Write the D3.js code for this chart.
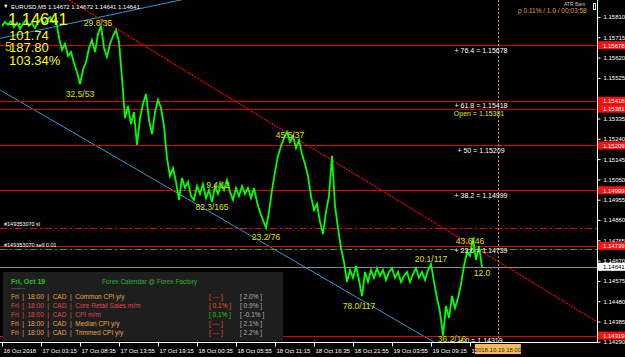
<!DOCTYPE html>
<html>
<head>
<meta charset="utf-8">
<script src="https://cdn.jsdelivr.net/npm/d3@7"></script>
<style>
body { margin: 0; background: #000; }
svg { display: block; font-family: "Liberation Sans", Arial, sans-serif; }
</style>
</head>
<body>
<svg id="chart" width="625" height="357"></svg>
<script>
/*=====================================================================
 data
======================================================================*/

// EURUSD M5 closes, one sample every ~5 bars
var closes = [
    1.15768, 1.15787, 1.15773, 1.15791, 1.15763, 1.15782, 1.15754, 1.15777, 1.15796, 1.15768,
    1.15782, 1.15759, 1.15787, 1.15801, 1.15777, 1.15796, 1.15810, 1.15787, 1.15801, 1.15712,
    1.15656, 1.15684, 1.15628, 1.15646, 1.15595, 1.15553, 1.15496, 1.15562, 1.15599, 1.15665,
    1.15702, 1.15646, 1.15730, 1.15768, 1.15665, 1.15623, 1.15684, 1.15721, 1.15749, 1.15693,
    1.15525, 1.15337, 1.15394, 1.15309, 1.15365, 1.15211, 1.15337, 1.15403, 1.15450, 1.15328,
    1.15262, 1.15365, 1.15422, 1.15384, 1.15300, 1.15150, 1.15066, 1.15103, 1.15038, 1.14954,
    1.15057, 1.15010, 1.15038, 1.14972, 1.14954, 1.15019, 1.14982, 1.15028, 1.14963, 1.15000,
    1.14944, 1.15019, 1.14982, 1.15028, 1.15000, 1.15047, 1.14991, 1.14954, 1.15010, 1.14972,
    1.15019, 1.14982, 1.15010, 1.14963, 1.15010, 1.14944, 1.14897, 1.14860, 1.14823, 1.14897,
    1.15000, 1.15085, 1.15160, 1.15206, 1.15244, 1.15272, 1.15225, 1.15253, 1.15197, 1.15234,
    1.15169, 1.15122, 1.15066, 1.14972, 1.14907, 1.14935, 1.14851, 1.14794, 1.14897, 1.14972,
    1.15160, 1.14926, 1.14823, 1.14729, 1.14663, 1.14570, 1.14626, 1.14589, 1.14645, 1.14579,
    1.14504, 1.14617, 1.14570, 1.14626, 1.14589, 1.14635, 1.14598, 1.14626, 1.14579, 1.14617,
    1.14635, 1.14589, 1.14617, 1.14570, 1.14598, 1.14617, 1.14570, 1.14607, 1.14635, 1.14589,
    1.14617, 1.14579, 1.14626, 1.14654, 1.14570, 1.14495, 1.14429, 1.14319, 1.14458, 1.14401,
    1.14504, 1.14448, 1.14495, 1.14560, 1.14645, 1.14710, 1.14692, 1.14776, 1.14673, 1.14738,
    1.14641
];

var priceTicks = [1.15810, 1.15715, 1.15620, 1.15525, 1.15430, 1.15335, 1.15240, 1.15145, 1.15050,
    1.14955, 1.14860, 1.14765, 1.14670, 1.14575, 1.14480, 1.14385, 1.14290];

var timeLabels = ["16 Oct 2018", "17 Oct 03:15", "17 Oct 08:35", "17 Oct 13:55", "17 Oct 19:15",
    "18 Oct 00:35", "18 Oct 05:55", "18 Oct 11:15", "18 Oct 16:35", "18 Oct 21:55",
    "19 Oct 03:55", "19 Oct 09:15", "19 Oct 14:35"];
var timeTicks = [0, 13, 26, 39, 52, 65, 78, 91, 104, 117, 130, 143, 156]; // sample index

// fibonacci levels
var fibNames = ["76.4", "61.8", "50", "38.2", "23.6", "0"];
var fibPrices = [1.15678, 1.15418, 1.15209, 1.14999, 1.14739, 1.14319];
var openPrice = 1.15381;
var lastPrice = 1.14641;

// order lines
var orderTicket = "#149353070";
var slPrice = 1.14823;
var entryPrice = 1.14724;

// trend lines: [sample, price] pairs
var blueUpper = [[0, 1.15712], [61, 1.15894]];
var blueLower = [[0, 1.15463], [140, 1.14321]];
var redTrend = [[0, 1.16081], [160, 1.14712]];

// swing labels
var swingText = ["29.8/35", "32.5/53", "45.5/37", "9.4/12", "82.3/165", "23.2/76", "78.0/117", "20.1/117", "43.6/46", "12.0", "36.2/16"];
var swingIdx = [32, 26, 96, 72, 70, 88, 119, 143, 156, 160, 150];
var swingPrice = [1.15768, 1.15436, 1.15244, 1.15010, 1.14907, 1.14767, 1.14444, 1.14664, 1.14748, 1.14599, 1.14290];

// event marker
var eventSample = 165.3;
var eventLabel = "2018.10.19 18:00";

// forex calendar
var calDay = "Fri, Oct 19";
var calWeekday = ["Fri", "Fri", "Fri", "Fri", "Fri"];
var calTime = ["18:00", "18:00", "18:00", "18:00", "18:00"];
var calCurrency = ["CAD", "CAD", "CAD", "CAD", "CAD"];
var calEvent = ["Common CPI y/y", "Core Retail Sales m/m", "CPI m/m", "Median CPI y/y", "Trimmed CPI y/y"];
var calImpact = ["medium", "high", "high", "medium", "medium"];
var calForecast = ["---", "0.1%", "0.1%", "---", "---"];
var calPrevious = ["2.0%", "0.9%", "-0.1%", "2.1%", "2.2%"];

/*=====================================================================
 setup
======================================================================*/
var W = 625, H = 357;
var plotRight = 597, plotBottom = 342;

var svg = d3.select("#chart");
svg.append("rect").attr("width", W).attr("height", H).attr("fill", "#000");

var defs = svg.append("defs");
defs.append("clipPath").attr("id", "plotClip")
    .append("rect").attr("width", plotRight).attr("height", plotBottom);

var x = d3.scaleLinear().domain([0, 160]).range([2, 482]);
var y = d3.scaleLinear().domain([1.14290, 1.15810]).range([341.8, 17]);

var plot = svg.append("g").attr("clip-path", "url(#plotClip)");

// straight line through two [sample, price] points, spanning the plot
function trendLine(pts, color, dash, width) {
    var s0 = x.invert(0), s1 = x.invert(plotRight);
    var k = (pts[1][1] - pts[0][1]) / (pts[1][0] - pts[0][0]);
    var p = function (s) { return pts[0][1] + (s - pts[0][0]) * k; };
    plot.append("line")
        .attr("x1", x(s0)).attr("y1", y(p(s0)))
        .attr("x2", x(s1)).attr("y2", y(p(s1)))
        .attr("stroke", color).attr("stroke-width", width || 1)
        .attr("stroke-dasharray", dash || null);
}

function hLine(price, color, dash) {
    plot.append("line")
        .attr("x1", 0).attr("x2", plotRight)
        .attr("y1", Math.round(y(price)) + 0.5).attr("y2", Math.round(y(price)) + 0.5)
        .attr("stroke", color).attr("stroke-width", 1)
        .attr("stroke-dasharray", dash || null);
}

/*=====================================================================
 lines
======================================================================*/
trendLine(blueUpper, "#2f9ad6");
trendLine(blueLower, "#2f9ad6");
trendLine(redTrend, "#f00000", "2,1", 1.2);

fibPrices.forEach(function (p) { hLine(p, "#e00000"); });
hLine(openPrice, "#c80000");
hLine(lastPrice, "#8c8c8c");
hLine(slPrice, "#ff0000", "7,3,2,3");
hLine(entryPrice, "#00c000", "7,3,2,3");

// event time marker
plot.append("line")
    .attr("x1", Math.round(x(eventSample)) + 0.5).attr("x2", Math.round(x(eventSample)) + 0.5)
    .attr("y1", 0).attr("y2", plotBottom)
    .attr("stroke", "#d89040").attr("stroke-dasharray", "2,2");

// price line
var line = d3.line()
    .x(function (d, i) { return x(i); })
    .y(function (d) { return y(d); });

plot.append("path")
    .datum(closes)
    .attr("d", line)
    .attr("fill", "none")
    .attr("stroke", "#00ff00")
    .attr("stroke-width", 1.8)
    .attr("stroke-linejoin", "miter");

/*=====================================================================
 labels on the plot
======================================================================*/
fibPrices.forEach(function (p, i) {
    svg.append("text")
        .attr("x", 481).attr("y", y(p) + 7.5)
        .attr("text-anchor", "middle")
        .attr("font-size", 7).attr("fill", "#ffffff")
        .text("+ " + fibNames[i] + " = " + p.toFixed(5));
});
svg.append("text")
    .attr("x", 479).attr("y", y(openPrice) + 7)
    .attr("text-anchor", "middle")
    .attr("font-size", 7).attr("fill", "#e8e800")
    .text("Open = " + openPrice.toFixed(5));

swingText.forEach(function (t, i) {
    svg.append("text")
        .attr("x", x(swingIdx[i])).attr("y", y(swingPrice[i]))
        .attr("text-anchor", "middle")
        .attr("font-size", 8.5).attr("fill", "#e0e000")
        .text(t);
});

svg.append("text").attr("x", 4).attr("y", y(slPrice) - 1.5)
    .attr("font-size", 5.5).attr("fill", "#ffffff").text(orderTicket + " sl");
svg.append("text").attr("x", 4).attr("y", y(entryPrice) - 2)
    .attr("font-size", 5.5).attr("fill", "#ffffff").text(orderTicket + " sell 0.01");

/*=====================================================================
 axes
======================================================================*/
var yAxis = d3.axisRight(y)
    .tickValues(priceTicks)
    .tickSize(3).tickPadding(3)
    .tickFormat(d3.format(".5f"));
var gy = svg.append("g").attr("transform", "translate(" + (plotRight + 0.5) + ",0)").call(yAxis);
gy.select(".domain").remove();
gy.selectAll("line").attr("stroke", "#ffffff");
gy.selectAll("text").attr("fill", "#ffffff").attr("font-size", 6).attr("font-family", "Liberation Sans, Arial");

// last time label sits under the event box, clip it there
defs.append("clipPath").attr("id", "timeClip")
    .append("rect").attr("x", 0).attr("y", plotBottom).attr("width", x(eventSample) - 23).attr("height", 15);

var xAxis = d3.axisBottom(x)
    .tickValues(timeTicks)
    .tickSize(4).tickPadding(2)
    .tickFormat(function (d, i) { return timeLabels[i]; });
var gx = svg.append("g").attr("clip-path", "url(#timeClip)")
    .append("g").attr("transform", "translate(0," + (plotBottom + 0.5) + ")").call(xAxis);
gx.select(".domain").remove();
gx.selectAll("line").attr("stroke", "#ffffff");
gx.selectAll("text").attr("fill", "#ffffff").attr("font-size", 6)
    .attr("font-family", "Liberation Sans, Arial")
    .attr("text-anchor", "start").attr("x", 1);

// chart border
svg.append("path")
    .attr("d", "M" + (plotRight + 0.5) + ",0V" + (plotBottom + 0.5) + "H0")
    .attr("fill", "none").attr("stroke", "#ffffff");

// price boxes on the axis
function priceBox(p, bg, fg) {
    var g = svg.append("g").attr("transform", "translate(" + (plotRight + 1) + "," + y(p) + ")");
    g.append("rect").attr("x", 0).attr("y", -4).attr("width", 28).attr("height", 8).attr("fill", bg);
    g.append("text").attr("x", 5).attr("y", 2.3).attr("font-size", 6).attr("fill", fg).text(p.toFixed(5));
}
fibPrices.concat([openPrice]).forEach(function (p) { priceBox(p, "#ff1010", "#ffffff"); });
priceBox(lastPrice, "#ffffff", "#000000");

// event time box
var eg = svg.append("g").attr("transform", "translate(" + x(eventSample) + "," + (plotBottom + 2) + ")");
eg.append("rect").attr("x", -23).attr("y", 0).attr("width", 46).attr("height", 10).attr("fill", "#f6b85a");
eg.append("text").attr("x", 0).attr("y", 7.5).attr("text-anchor", "middle")
    .attr("font-size", 6).attr("fill", "#3a2a10").text(eventLabel);

/*=====================================================================
 header texts
======================================================================*/
svg.append("text").attr("x", 3).attr("y", 8).attr("font-size", 5.5).attr("fill", "#ffffff").text("\u25BC");
svg.append("text").attr("x", 11).attr("y", 8.5).attr("font-size", 6).attr("fill", "#ffffff")
    .text("EURUSD,M5  1.14672 1.14672 1.14641 1.14641");

svg.append("text").attr("x", 8).attr("y", 25).attr("font-size", 16.5).attr("fill", "#ffff00")
    .text(lastPrice.toFixed(5));
svg.append("text").attr("x", 5).attr("y", 51).attr("font-size", 12).attr("fill", "#c8c800").text("5");
svg.append("text").attr("x", 9).attr("y", 39.5).attr("font-size", 13).attr("fill", "#ffff00").text("101.74");
svg.append("text").attr("x", 9).attr("y", 52).attr("font-size", 13).attr("fill", "#ffff00").text("187.80");
svg.append("text").attr("x", 9).attr("y", 64.5).attr("font-size", 13).attr("fill", "#ffff00").text("103.34%");

svg.append("text").attr("x", 518).attr("y", 13).attr("font-size", 6.5).attr("fill", "#e0a03c")
    .text("\u03C1 0.11% / 1.0 / 00:03:58");
svg.append("text").attr("x", 564).attr("y", 6).attr("font-size", 5).attr("fill", "#c0c0c0")
    .text("ATR Bars");
svg.append("rect").attr("x", 593.5).attr("y", 3.5).attr("width", 2).attr("height", 6)
    .attr("fill", "none").attr("stroke", "#b0ffd0");

/*=====================================================================
 forex calendar panel
======================================================================*/
var cal = svg.append("g");
cal.append("rect").attr("x", 3).attr("y", 272).attr("width", 280).attr("height", 69).attr("fill", "#1e1e1e");
cal.append("text").attr("x", 11).attr("y", 283.5).attr("font-size", 7).attr("font-weight", "bold")
    .attr("fill", "#1ec81e").text(calDay);
cal.append("text").attr("x", 102).attr("y", 283.5).attr("font-size", 6.5)
    .attr("fill", "#28b428").text("Forex Calendar @ Forex Factory");
cal.append("text").attr("x", 11).attr("y", 290).attr("font-size", 6)
    .attr("fill", "#9a9a9a").text("-------");

var rowY = d3.scaleLinear().domain([0, 1]).range([299, 308]);
calEvent.forEach(function (ev, i) {
    var color = calImpact[i] === "high" ? "#e04646" : "#eaa446";
    var fc = calForecast[i] !== "---" && parseFloat(calForecast[i]) > parseFloat(calPrevious[i]) ? "#28d228" : "#ff4a28";
    cal.append("text").attr("x", 11).attr("y", rowY(i)).attr("font-size", 6.5).attr("fill", color)
        .attr("xml:space", "preserve")
        .text(calWeekday[i] + "  |  " + calTime[i] + "  |  " + calCurrency[i] + "  |  " + ev);
    cal.append("text").attr("x", 209).attr("y", rowY(i)).attr("font-size", 6.5).attr("fill", fc)
        .text("[ " + calForecast[i] + " ]");
    cal.append("text").attr("x", 240).attr("y", rowY(i)).attr("font-size", 6.5).attr("fill", "#b4b4b4")
        .text("[ " + calPrevious[i] + " ]");
});
</script>
</body>
</html>
